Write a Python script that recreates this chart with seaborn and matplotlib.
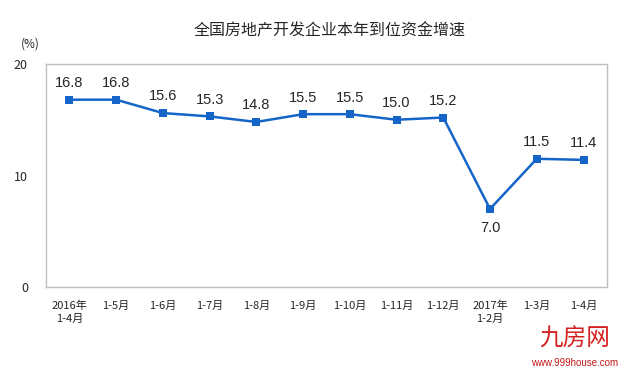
import pandas as pd
import seaborn as sns
import matplotlib.pyplot as plt

sns.set_style("white")
plt.rcParams['font.family'] = ['Noto Sans CJK SC', 'DejaVu Sans']

# data
periods = ["2016年\n1-4月", "1-5月", "1-6月", "1-7月", "1-8月", "1-9月", "1-10月",
           "1-11月", "1-12月", "2017年\n1-2月", "1-3月", "1-4月"]
growth = [16.8, 16.8, 15.6, 15.3, 14.8, 15.5, 15.5, 15.0, 15.2, 7.0, 11.5, 11.4]

df = pd.DataFrame({"pos": range(len(periods)), "growth": growth})

fig = plt.figure(figsize=(6.25, 3.71), dpi=100)
ax = fig.add_axes([0.0736, 0.2264, 0.8974, 0.6011])

sns.lineplot(data=df, x="pos", y="growth", color="#1565C8", linewidth=1.8,
             marker="s", markersize=6, markeredgewidth=0, ax=ax)

# value labels, the dip gets its label below
for i, v in enumerate(growth):
    if v < 10:
        ax.annotate(f"{v:.1f}", (i, v), xytext=(0, -14), textcoords="offset points",
                    ha="center", va="center", fontsize=10.5, family="Liberation Sans")
    else:
        ax.annotate(f"{v:.1f}", (i, v), xytext=(0, 12), textcoords="offset points",
                    ha="center", va="center", fontsize=10.5, family="Liberation Sans")

ax.set_xlim(-0.5, len(periods) - 0.5)
ax.set_ylim(0, 20)
ax.set_yticks([0, 10, 20])
ax.set_xticks(range(len(periods)))
ax.set_xticklabels(periods, fontsize=8, linespacing=1.3)
ax.set_xticks([i + 0.5 for i in range(len(periods) - 1)], minor=True)
ax.tick_params(axis="x", which="major", length=0, pad=10)
ax.tick_params(axis="x", which="minor", length=3, color="#BFBFBF", direction="out")
ax.tick_params(axis="y", length=3, color="#BFBFBF", direction="out", labelsize=9, pad=10)
ax.set_xlabel("")
ax.set_ylabel("")
for s in ax.spines.values():
    s.set_color("#BFBFBF")
    s.set_linewidth(1)

fig.text(0.528, 0.918, "全国房地产开发企业本年到位资金增速", ha="center", va="center", fontsize=11.5)
fig.text(0.048, 0.882, "(%)", ha="center", va="center", fontsize=8.5)

# watermark
fig.text(0.92, 0.085, "九房网", ha="center", va="center", fontsize=17, color="#D42020")
fig.text(0.92, 0.022, "www.999house.com", ha="center", va="center", fontsize=7,
         color="#C01818", family="Liberation Sans")

fig.savefig("out.png", dpi=100)
